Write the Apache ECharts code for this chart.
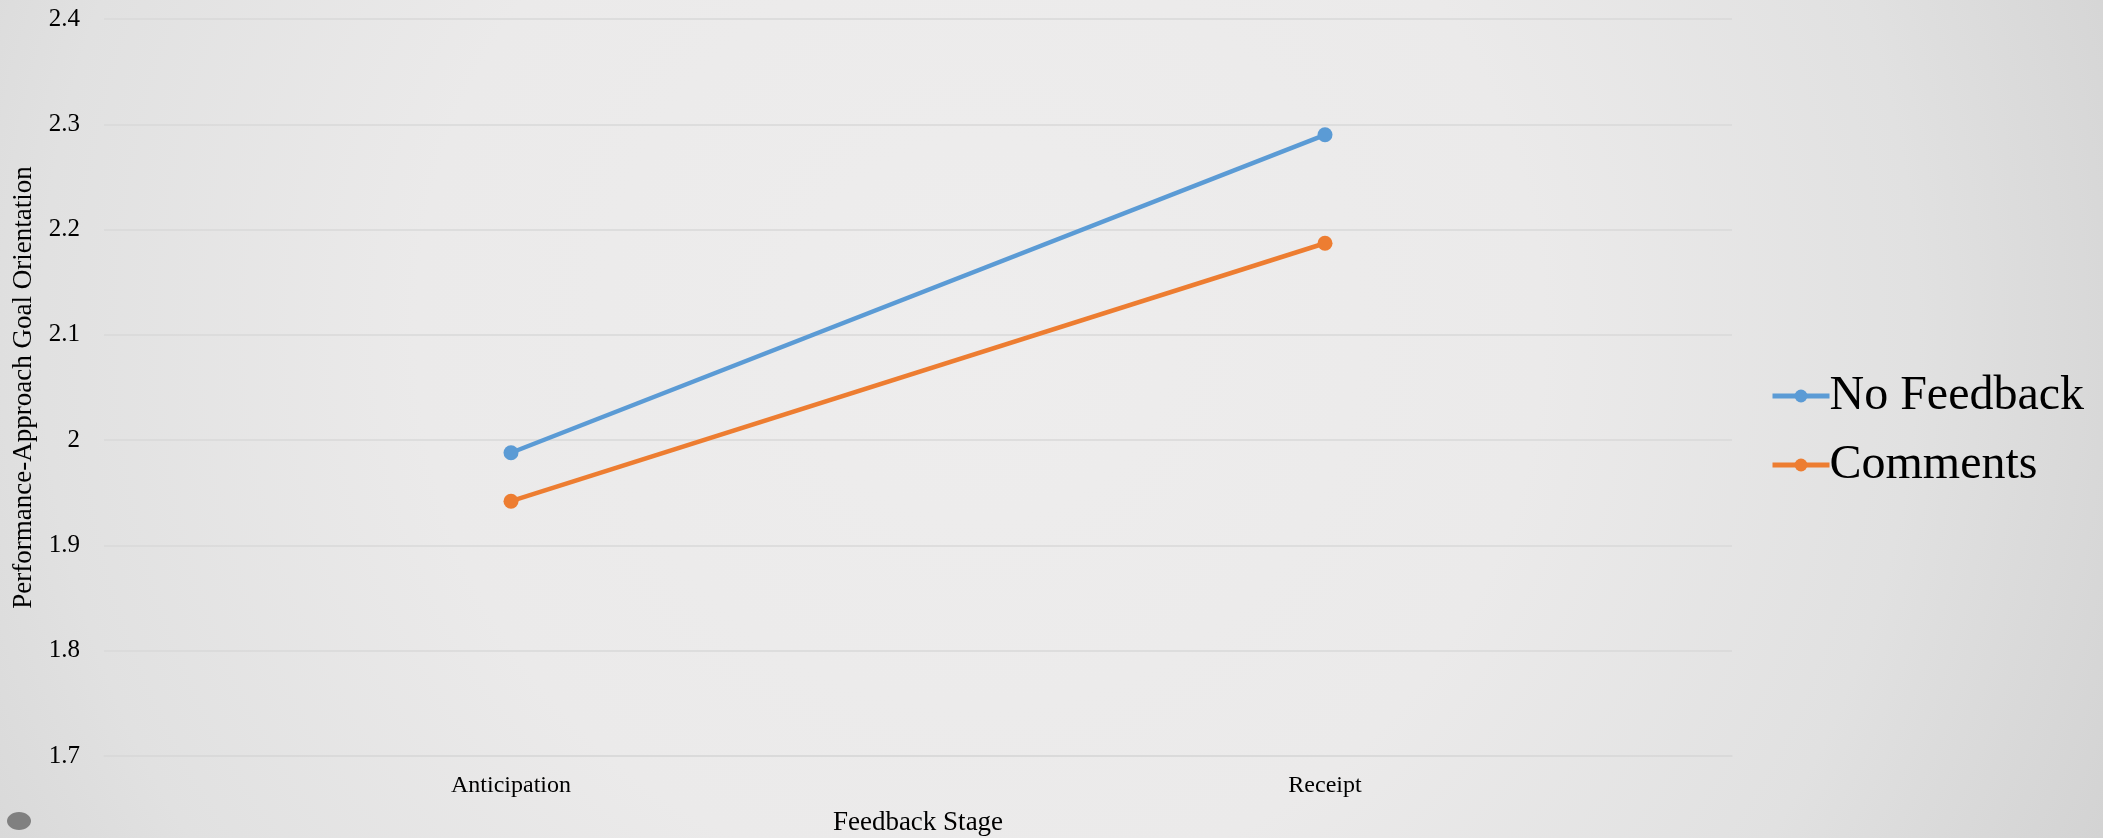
<!DOCTYPE html>
<html>
<head>
<meta charset="utf-8">
<script src="https://cdn.jsdelivr.net/npm/echarts@6/dist/echarts.min.js"></script>
<style>
  html, body { margin: 0; padding: 0; }
  #chart { width: 2103px; height: 838px; }
</style>
</head>
<body>
<div id="chart"></div>
<script>
// Feedback stages on the x axis
const stages = ['Anticipation', 'Receipt'];
// Mean performance-approach goal orientation per condition
const noFeedback = [1.988, 2.290];
const comments = [1.942, 2.187];
// Value axis range
const yMin = 1.7;
const yMax = 2.4;
const yStep = 0.1;

const serif = '"Liberation Serif", "Times New Roman", serif';

const chart = echarts.init(document.getElementById('chart'), null, { renderer: 'canvas' });

chart.setOption({
  backgroundColor: {
    type: 'radial', x: 980, y: 330, r: 1250, global: true,
    colorStops: [
      { offset: 0, color: '#eeeded' },
      { offset: 0.45, color: '#ebeaea' },
      { offset: 0.75, color: '#e1e1e1' },
      { offset: 1, color: '#d2d2d2' }
    ]
  },
  graphic: [{
    type: 'ellipse',
    shape: { cx: 19, cy: 821, rx: 12, ry: 9 },
    style: { fill: '#808080' },
    silent: true
  }],
  grid: {
    left: 104, right: 371, top: 19, bottom: 82,
    containLabel: false,
    outerBoundsMode: 'none'
  },
  legend: {
    orient: 'vertical',
    left: 1765,
    top: 367,
    itemWidth: 57,
    itemHeight: 16,
    itemGap: 21,
    lineStyle: { width: 5 },
    textStyle: { fontFamily: serif, fontSize: 48, color: '#000', padding: [0, 0, 0, -5] },
    data: ['No Feedback', 'Comments']
  },
  xAxis: {
    type: 'category',
    data: stages,
    boundaryGap: true,
    axisLine: { show: true, lineStyle: { color: '#d9d9d9', width: 1.5 } },
    axisTick: { show: false },
    axisLabel: { fontFamily: serif, fontSize: 24, color: '#000', margin: 18 },
    name: 'Feedback Stage',
    nameLocation: 'middle',
    nameGap: 53,
    nameTextStyle: { fontFamily: serif, fontSize: 27, color: '#000' }
  },
  yAxis: {
    type: 'value',
    min: yMin,
    max: yMax,
    interval: yStep,
    axisLine: { show: false },
    axisTick: { show: false },
    splitLine: { lineStyle: { color: '#d9d9d9', width: 1.5 } },
    axisLabel: {
      fontFamily: serif, fontSize: 25, color: '#000', margin: 24,
      formatter: v => String(Math.round(v * 10) / 10)
    },
    name: 'Performance-Approach Goal Orientation',
    nameLocation: 'middle',
    nameRotate: 90,
    nameGap: 59,
    nameTextStyle: { fontFamily: serif, fontSize: 27, color: '#000' }
  },
  series: [
    {
      name: 'No Feedback', type: 'line', data: noFeedback,
      symbol: 'circle', symbolSize: 15,
      lineStyle: { color: '#5b9bd5', width: 4.5 },
      itemStyle: { color: '#5b9bd5' },
      animation: false
    },
    {
      name: 'Comments', type: 'line', data: comments,
      symbol: 'circle', symbolSize: 15,
      lineStyle: { color: '#ed7d31', width: 4.5 },
      itemStyle: { color: '#ed7d31' },
      animation: false
    }
  ]
});
</script>
</body>
</html>
